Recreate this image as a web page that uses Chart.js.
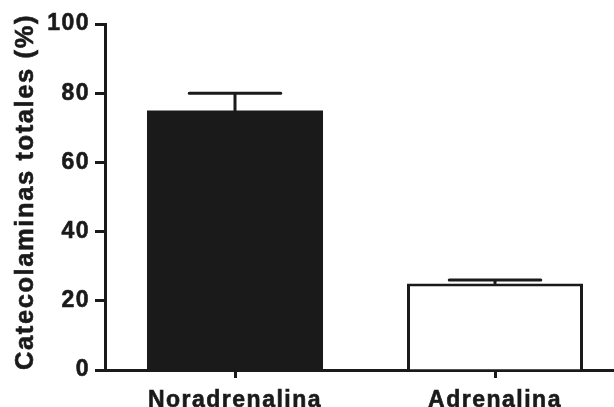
<!DOCTYPE html>
<html>
<head>
<meta charset="utf-8">
<script src="https://cdn.jsdelivr.net/npm/chart.js@4"></script>
<style>
html,body{margin:0;padding:0;background:#fff;overflow:hidden;}
#wrap{position:relative;width:625px;height:407px;}
</style>
</head>
<body>
<div id="wrap"><canvas id="c"></canvas></div>
<script>
const categories = ['Noradrenalina', 'Adrenalina'];
const values = [75, 25];
const sem = [5, 1];
const yTicks = [0, 20, 40, 60, 80, 100];
const yTitle = 'Catecolaminas totales (%)';

const INK = '#1a1a1a';
const FONT = 'Liberation Sans, Arial, Helvetica, sans-serif';

const spacing = {
  id: 'spacing',
  beforeInit(c) { c.ctx.letterSpacing = '1.5px'; },
  beforeLayout(c) { c.ctx.letterSpacing = '1.5px'; },
  beforeDraw(c) { c.ctx.letterSpacing = '1.5px'; }
};

const errorBars = {
  id: 'errorBars',
  afterDatasetsDraw(chart) {
    const ctx = chart.ctx;
    const meta = chart.getDatasetMeta(0);
    const y = chart.scales.y;
    ctx.save();
    ctx.strokeStyle = INK;
    ctx.lineWidth = 3;
    ctx.lineCap = 'round';
    meta.data.forEach((bar, i) => {
      const x = bar.x;
      const y0 = y.getPixelForValue(values[i]);
      const y1 = y.getPixelForValue(values[i] + sem[i]);
      const half = bar.width * 0.26;
      ctx.beginPath();
      ctx.moveTo(x, y0);
      ctx.lineTo(x, y1);
      ctx.moveTo(x - half, y1);
      ctx.lineTo(x + half, y1);
      ctx.stroke();
    });
    ctx.restore();
  }
};

const axisTitle = {
  id: 'axisTitle',
  afterDraw(chart) {
    const ctx = chart.ctx;
    ctx.save();
    ctx.translate(33, 192);
    ctx.rotate(-Math.PI / 2);
    ctx.font = 'bold 25.5px ' + FONT;
    ctx.letterSpacing = '1.6px';
    ctx.textAlign = 'center';
    ctx.textBaseline = 'alphabetic';
    ctx.fillStyle = INK;
    ctx.strokeStyle = INK;
    ctx.lineWidth = 0.6;
    ctx.fillText(yTitle, 0, 0);
    ctx.strokeText(yTitle, 0, 0);
    ctx.restore();
  }
};

const chart = new Chart(document.getElementById('c'), {
  type: 'bar',
  data: {
    labels: categories,
    datasets: [{
      data: values,
      backgroundColor: [INK, '#ffffff'],
      borderColor: INK,
      borderWidth: [0, 3],
      borderSkipped: 'bottom',
      categoryPercentage: 1,
      barPercentage: 0.677
    }]
  },
  options: {
    responsive: true,
    maintainAspectRatio: false,
    animation: false,
    events: [],
    layout: { padding: { top: 24, right: 0, left: 0, bottom: 0 } },
    plugins: { legend: { display: false }, tooltip: { enabled: false } },
    scales: {
      x: {
        grid: { drawOnChartArea: false, offset: false, tickLength: 8, tickWidth: 3, tickColor: INK },
        border: { display: true, color: INK, width: 3 },
        ticks: { color: INK, padding: 9, textStrokeColor: INK, textStrokeWidth: 0.6,
                 font: { family: FONT, size: 23, weight: 'bold' } },
        afterFit(s) { s.height = 37; }
      },
      y: {
        min: 0, max: 100,
        afterBuildTicks(s) { s.ticks = yTicks.map(v => ({ value: v })); },
        grid: { drawOnChartArea: false, tickLength: 10, tickWidth: 3, tickColor: INK },
        border: { display: true, color: INK, width: 3 },
        ticks: { color: INK, padding: 5, textStrokeColor: INK, textStrokeWidth: 0.6,
                 font: { family: FONT, size: 23, weight: 'bold' } },
        title: { display: false, text: yTitle },
        afterFit(s) { s.width = 105; }
      }
    }
  },
  plugins: [spacing, errorBars, axisTitle]
});
</script>
</body>
</html>
